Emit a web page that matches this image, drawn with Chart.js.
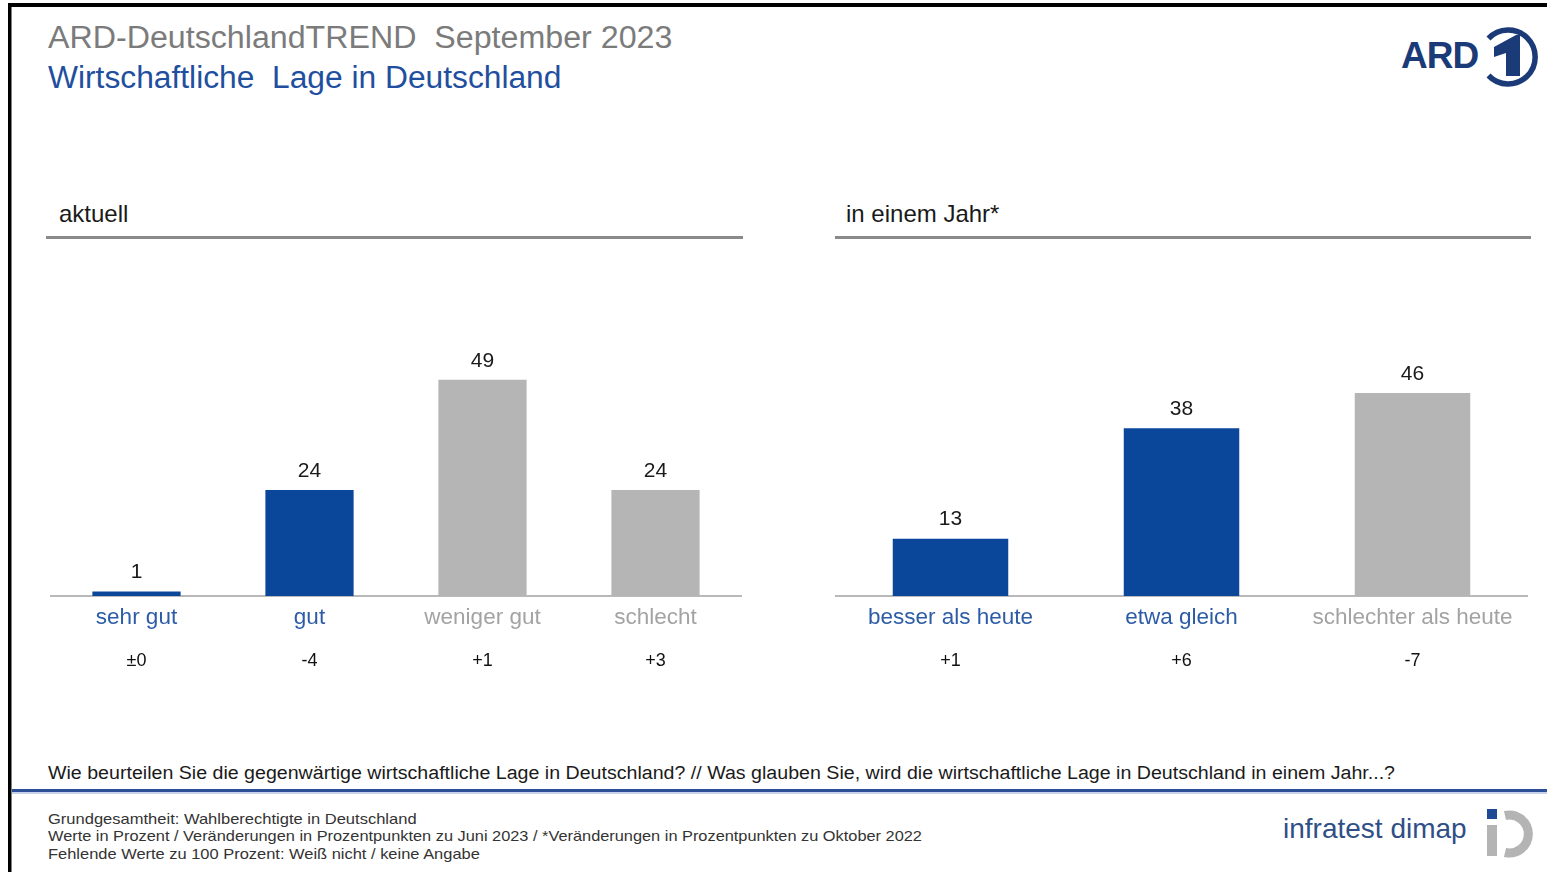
<!DOCTYPE html>
<html lang="de">
<head>
<meta charset="utf-8">
<title>Wirtschaftliche Lage in Deutschland</title>
<script src="https://cdn.jsdelivr.net/npm/chart.js@4.4.0/dist/chart.umd.min.js"></script>
<style>
  html, body { margin: 0; padding: 0; background: #fff; }
  body { width: 1547px; height: 872px; position: relative; overflow: hidden;
         font-family: "Liberation Sans", Arial, sans-serif; }
  .txt { position: absolute; white-space: nowrap; line-height: 1; }
  canvas { position: absolute; }
  svg { position: absolute; left: 0; top: 0; }
</style>
</head>
<body>

<svg width="1547" height="872">
  <!-- frame -->
  <rect x="8" y="3" width="1539" height="4" fill="#000"/>
  <rect x="8" y="3" width="3.5" height="869" fill="#000"/>
  <!-- section rules -->
  <rect x="46" y="236" width="697" height="3" fill="#8a8a8a"/>
  <rect x="835" y="236" width="696" height="3" fill="#8a8a8a"/>
  <!-- blue separator -->
  <rect x="12" y="789" width="1535" height="3" fill="#2c4f95"/>
  <rect x="12" y="792" width="1535" height="2" fill="#c5d2e8"/>
  <!-- ARD logo -->
  <path d="M1488.5 38.5 A27 27 0 1 1 1488.5 75.5" fill="none" stroke="#1b3a78" stroke-width="5.5"/>
  <path d="M1494 47 L1516 35 L1520 35 L1520 76 L1506 76 L1506 53 L1494 57 Z" fill="#1b3a78"/>
  <!-- infratest dimap icon -->
  <rect x="1487" y="809" width="10" height="10" fill="#1f4a96"/>
  <rect x="1487" y="825" width="10" height="31" fill="#b4b4b4"/>
  <path d="M1505 815.5 A19 19 0 1 1 1505 852.5" fill="none" stroke="#b4b4b4" stroke-width="9"/>
</svg>

<div class="txt fit" data-w="624" style="left:48px;top:22px;font-size:31px;color:#7b7b7b;">ARD-DeutschlandTREND&nbsp; September 2023</div>
<div class="txt fit" data-w="513" style="left:48px;top:62px;font-size:31px;color:#1f4f9e;">Wirtschaftliche&nbsp; Lage in Deutschland</div>
<div class="txt" style="left:1401px;top:37px;font-size:37px;font-weight:bold;color:#1b3a78;letter-spacing:-1px;">ARD</div>

<div class="txt" style="left:59px;top:202px;font-size:24px;color:#1a1a1a;">aktuell</div>
<div class="txt" style="left:846px;top:202px;font-size:24px;color:#1a1a1a;">in einem Jahr*</div>

<canvas id="chartNow" width="692" height="400" style="left:50px;top:296px;width:692px;height:400px;"></canvas>
<canvas id="chartYear" width="693" height="400" style="left:835px;top:296px;width:693px;height:400px;"></canvas>

<div class="txt fit" data-w="1347" style="left:48px;top:764px;font-size:18px;color:#1a1a1a;">Wie beurteilen Sie die gegenwärtige wirtschaftliche Lage in Deutschland? // Was glauben Sie, wird die wirtschaftliche Lage in Deutschland in einem Jahr...?</div>

<div class="txt fit" data-w="369" style="left:48px;top:811px;font-size:15px;color:#333;">Grundgesamtheit: Wahlberechtigte in Deutschland</div>
<div class="txt fit" data-w="874" style="left:48px;top:828px;font-size:15px;color:#333;">Werte in Prozent / Veränderungen in Prozentpunkten zu Juni 2023 / *Veränderungen in Prozentpunkten zu Oktober 2022</div>
<div class="txt fit" data-w="432" style="left:48px;top:846px;font-size:15px;color:#333;">Fehlende Werte zu 100 Prozent: Weiß nicht / keine Angabe</div>

<div class="txt" style="left:1283px;top:815px;font-size:28px;color:#2f4f86;">infratest dimap</div>

<script>
// aktuell
const nowCategories = ["sehr gut", "gut", "weniger gut", "schlecht"];
const nowValues = [1, 24, 49, 24];
const nowChanges = ["±0", "-4", "+1", "+3"];

// in einem Jahr
const yearCategories = ["besser als heute", "etwa gleich", "schlechter als heute"];
const yearValues = [13, 38, 46];
const yearChanges = ["+1", "+6", "-7"];

const BLUE = "#0a4699";
const GREY = "#b5b5b5";
const LABEL_BLUE = "#2d5ca6";
const LABEL_GREY = "#a3a3a3";
const FONT = "'Liberation Sans', Arial, sans-serif";

// squeeze the condensed text lines to their width
document.querySelectorAll(".fit").forEach(el => {
    const w = parseFloat(el.dataset.w);
    el.style.transformOrigin = "0 0";
    el.style.transform = "scaleX(" + (w / el.scrollWidth) + ")";
});

const labelPlugin = {
    id: "labels",
    afterDraw(chart) {
        const ctx = chart.ctx;
        const meta = chart.getDatasetMeta(0);
        const changes = chart.options.plugins.labels.changes;
        const xScale = chart.scales.x;
        ctx.save();
        ctx.textAlign = "center";
        ctx.textBaseline = "middle";
        meta.data.forEach((bar, i) => {
            ctx.font = "21px " + FONT;
            ctx.fillStyle = "#1a1a1a";
            ctx.fillText(chart.data.datasets[0].data[i], bar.x, bar.y - 19);
            ctx.font = "18px " + FONT;
            ctx.fillStyle = "#111";
            ctx.fillText(changes[i], xScale.getPixelForValue(i), chart.chartArea.bottom + 65);
        });
        ctx.restore();
    }
};

function makeChart(id, categories, values, changes, colors, labelColors, barPct) {
    return new Chart(document.getElementById(id), {
        type: "bar",
        data: {
            labels: categories,
            datasets: [{
                data: values,
                backgroundColor: colors,
                borderWidth: 0,
                barPercentage: barPct,
                categoryPercentage: 1
            }]
        },
        options: {
            responsive: false,
            animation: false,
            devicePixelRatio: 1,
            layout: { padding: 0 },
            plugins: {
                legend: { display: false },
                tooltip: { enabled: false },
                labels: { changes: changes }
            },
            scales: {
                x: {
                    grid: { display: false, drawTicks: false },
                    border: { display: true, color: "#b9b9b9", width: 2 },
                    ticks: {
                        padding: 8,
                        font: { family: FONT, size: 22.5 },
                        color: ctx => labelColors[ctx.index]
                    },
                    afterFit(scale) { scale.height = 100; }
                },
                y: {
                    display: false,
                    min: 0,
                    max: 68
                }
            }
        },
        plugins: [labelPlugin]
    });
}

makeChart("chartNow", nowCategories, nowValues, nowChanges,
    [BLUE, BLUE, GREY, GREY], [LABEL_BLUE, LABEL_BLUE, LABEL_GREY, LABEL_GREY], 0.51);
makeChart("chartYear", yearCategories, yearValues, yearChanges,
    [BLUE, BLUE, GREY], [LABEL_BLUE, LABEL_BLUE, LABEL_GREY], 0.5);
</script>
</body>
</html>
